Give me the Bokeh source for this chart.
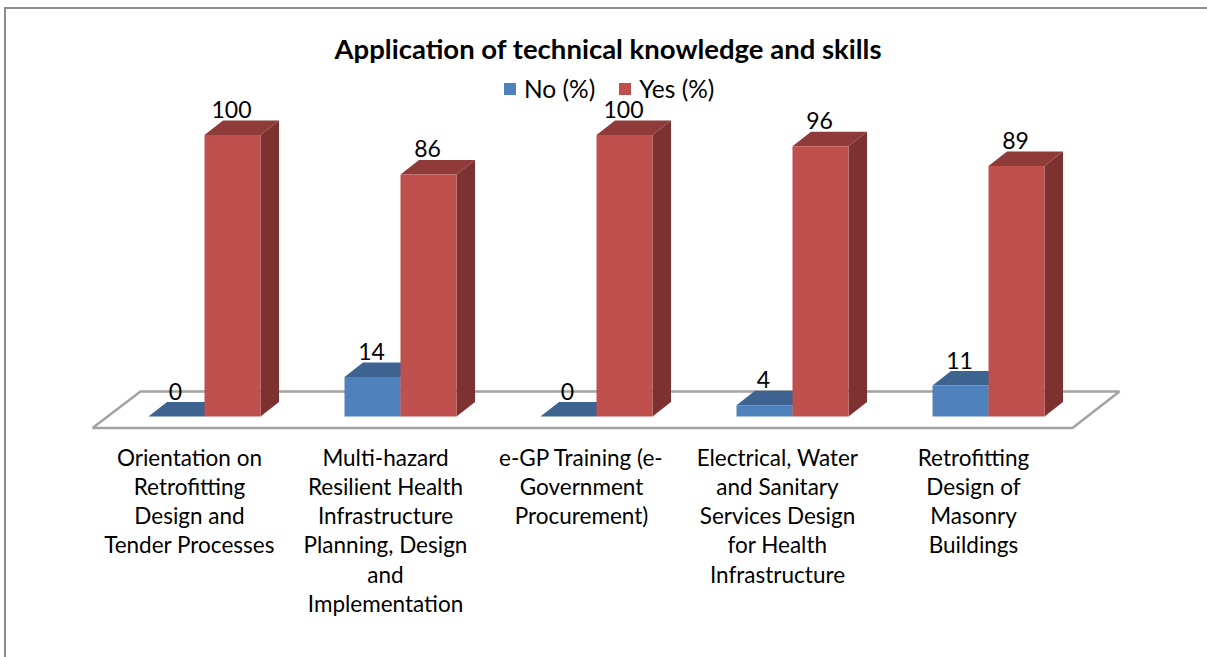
from bokeh.plotting import figure
from bokeh.models import (ColumnDataSource, Legend, LegendItem, FixedTicker,
                          Title, Range1d)
from bokeh.core.properties import value
from bokeh.embed import file_html
from bokeh.resources import INLINE

title_text = "Application of technical knowledge and skills"
categories = [
    "Orientation on\nRetrofitting\nDesign and\nTender Processes",
    "Multi-hazard\nResilient Health\nInfrastructure\nPlanning, Design\nand\nImplementation",
    "e-GP Training (e-\nGovernment\nProcurement)",
    "Electrical, Water\nand Sanitary\nServices Design\nfor Health\nInfrastructure",
    "Retrofitting\nDesign of\nMasonry\nBuildings",
]
no_pct = [0, 14, 0, 4, 11]
yes_pct = [100, 86, 100, 96, 89]

W, H = 1207, 657
FRAME_TOP, FRAME_BOTTOM = 68, 430
PX_X = 196.0          # pixels per category
PX_Y = 2.815          # pixels per percent
X0_PX, Y0_PX = 189.0, 416.0
FONT = "Lato"

BAR = 56 / PX_X
SHIFT = 15 / PX_X      # category label sits left of the blue/red join
DX = 18.5 / PX_X       # 3-D depth
DY = 14.5 / PX_Y

p = figure(width=W, height=H, output_backend="svg", toolbar_location=None,
           x_range=Range1d(-X0_PX / PX_X, (W - X0_PX) / PX_X),
           y_range=Range1d(-(FRAME_BOTTOM - Y0_PX) / PX_Y, (Y0_PX - FRAME_TOP) / PX_Y),
           min_border_left=0, min_border_right=0, min_border_top=FRAME_TOP,
           min_border_bottom=H - FRAME_BOTTOM, outline_line_color=None,
           margin=(0, 0, 0, 0), background_fill_color="white", border_fill_color="white")
p.grid.visible = False
p.yaxis.visible = False

# chart-area border: only its left and top edges fall in view
p.stylesheets = [":host{position:relative} :host::after{content:'';position:absolute;"
                 "left:3.5px;top:6.5px;right:0;bottom:0;border-left:2px solid #8c8c8c;"
                 "border-top:2px solid #8c8c8c;pointer-events:none}"]

ax = p.xaxis[0]
ax.ticker = FixedTicker(ticks=list(range(len(categories))))
ax.major_label_overrides = {i: c for i, c in enumerate(categories)}
ax.major_label_text_font = FONT
ax.major_label_text_font_size = "22.5px"
ax.major_label_text_line_height = 1.085
ax.major_label_text_color = "#000000"
ax.major_label_standoff = 7
ax.axis_line_color = None
ax.major_tick_line_color = None
ax.minor_tick_line_color = None

p.title = Title(text=title_text, align="left", text_font=FONT, text_font_size="27.5px",
                text_font_style="bold", text_color="#000000", offset=334, standoff=7)

# floor
n = len(categories)
floor_x = [(92 - X0_PX) / PX_X, (1072 - X0_PX) / PX_X, (1119 - X0_PX) / PX_X, (140 - X0_PX) / PX_X, (92 - X0_PX) / PX_X]
floor_y = [-11.5 / PX_Y, -11.5 / PX_Y, 25 / PX_Y, 25 / PX_Y, -11.5 / PX_Y]
p.line(floor_x, floor_y, line_color="#a3a3a3", line_width=2.5)

def bars(vals, left_offset, front, top, side):
    xs = [i + left_offset for i in range(n)]
    src = ColumnDataSource(dict(x=[v + BAR / 2 for v in xs], top=vals, label=[str(v) for v in vals]))
    p.patches([[v + BAR, v + BAR + DX, v + BAR + DX, v + BAR] for v in xs],
              [[0, DY, h + DY, h] for h in vals], fill_color=side, line_color=None)
    p.patches([[v, v + DX, v + BAR + DX, v + BAR] for v in xs],
              [[h, h + DY, h + DY, h] for h in vals], fill_color=top, line_color=None)
    return p.vbar(x="x", top="top", bottom=0, width=BAR, source=src, fill_color=front, line_color=None), src

r_no, s_no = bars(no_pct, SHIFT - BAR, "#4f81bd", "#3d6390", "#3d6390")
r_yes, s_yes = bars(yes_pct, SHIFT, "#c0504d", "#8e3b39", "#7d3231")

for s in (s_no, s_yes):
    p.text(x="x", y="top", text="label", source=s, text_align="center",
           text_baseline="middle", y_offset=-25.5, x_offset=-1, text_font=value(FONT),
           text_font_size="23px", text_color="#000000")

legend = Legend(items=[LegendItem(label="No (%)", renderers=[r_no]),
                       LegendItem(label="Yes (%)", renderers=[r_yes])],
                orientation="horizontal", location=(502, 327), glyph_width=15, glyph_height=15,
                label_text_font=FONT, label_text_font_size="24.5px", label_text_color="#000000",
                label_standoff=7, spacing=22, margin=0, padding=0,
                background_fill_alpha=0, border_line_color=None)
p.add_layout(legend, "center")

open("out.html", "w").write(file_html(p, INLINE))
